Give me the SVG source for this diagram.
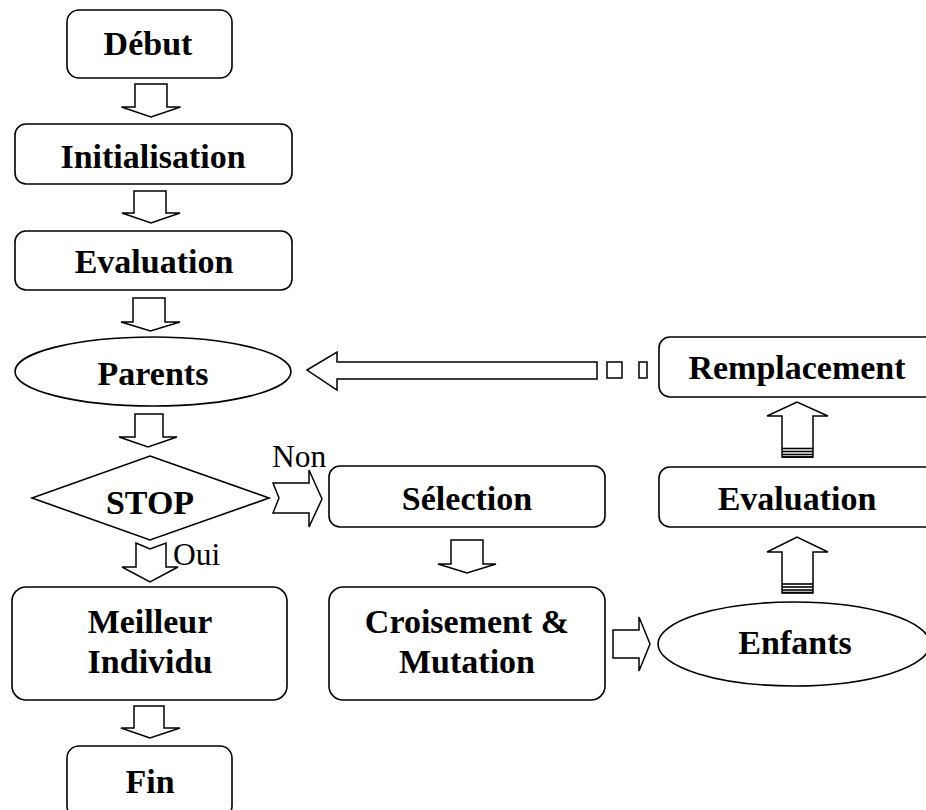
<svg xmlns="http://www.w3.org/2000/svg" width="926" height="810" viewBox="0 0 926 810">
  <defs>
    <style>
      .box { fill: #fff; stroke: #000; stroke-width: 1.6; }
      .arr { fill: #fff; stroke: #000; stroke-width: 1.5; stroke-linejoin: miter; }
      .lbl { font-family: "Liberation Serif", "Times New Roman", serif; font-weight: bold; font-size: 34px; fill: #000; text-anchor: middle; }
      .tag { font-family: "Liberation Serif", "Times New Roman", serif; font-size: 31.5px; fill: #000; }
      .bar { stroke: #000; stroke-width: 1.6; }
    </style>
  </defs>
  <rect width="926" height="810" fill="#fff"/>

  <!-- connectors -->
  <g id="connectors">
    <!-- left column, downward block arrows -->
    <path class="arr" d="M135,84 H167 V107 H180.5 L151,117 L121.5,107 H135 Z"/>
    <path class="arr" d="M134,191 H166 V213 H180 L151,223 L122,213 H134 Z"/>
    <path class="arr" d="M133,298 H165 V322 H180 L150.5,331 L121,322 H133 Z"/>
    <path class="arr" d="M135,414 H163 V437 H177 L148,447 L119,437 H135 Z"/>
    <!-- Oui -->
    <path class="arr" d="M136,543 L150,549 L166,543 V567 H178 L150,582 L122,567 H136 Z"/>
    <path class="arr" d="M134,706 H164 V728 H180 L150,738 L121,728 H134 Z"/>
    <!-- Non -->
    <path class="arr" d="M273,483 H309 V470 L322,499 L309,527 V513 H273 L279,498 Z"/>
    <!-- Sélection to Croisement -->
    <path class="arr" d="M451,540 H483 V564 H496 L467,573 L438,564 H451 Z"/>
    <!-- Croisement to Enfants -->
    <path class="arr" d="M613,630 H639 V617 L650,644 L639,671 V658 H613 Z"/>
    <!-- Enfants to Evaluation -->
    <path class="arr" d="M782,593 V552 H767 L797,537 L828,552 H813 V593 Z"/>
    <g class="bar">
      <line x1="782" y1="584" x2="813" y2="584"/>
      <line x1="782" y1="587" x2="813" y2="587"/>
      <line x1="782" y1="590" x2="813" y2="590"/>
      <line x1="782" y1="592.5" x2="813" y2="592.5"/>
    </g>
    <!-- Evaluation to Remplacement -->
    <path class="arr" d="M782,457 V416 H767 L797,402 L828,416 H813 V457 Z"/>
    <g class="bar">
      <line x1="782" y1="448.5" x2="813" y2="448.5"/>
      <line x1="782" y1="451.5" x2="813" y2="451.5"/>
      <line x1="782" y1="454.5" x2="813" y2="454.5"/>
      <line x1="782" y1="457" x2="813" y2="457"/>
    </g>
    <!-- Remplacement back to Parents -->
    <path class="arr" d="M307,370 L337,352 V362 H597 V379 H337 V390 Z"/>
    <rect class="arr" x="607" y="362" width="15" height="16"/>
    <rect class="arr" x="639" y="362" width="8" height="16"/>
  </g>

  <!-- nodes -->
  <g id="debut">
    <rect class="box" x="67" y="10" width="165" height="68" rx="12"/>
    <text class="lbl" x="148" y="55">Début</text>
  </g>
  <g id="initialisation">
    <rect class="box" x="15" y="124" width="277" height="60" rx="11"/>
    <text class="lbl" x="153" y="168">Initialisation</text>
  </g>
  <g id="evaluation1">
    <rect class="box" x="15" y="231" width="277" height="59" rx="11"/>
    <text class="lbl" x="154" y="273">Evaluation</text>
  </g>
  <g id="parents">
    <ellipse class="box" cx="153" cy="371.5" rx="138" ry="34.5"/>
    <text class="lbl" x="153" y="385">Parents</text>
  </g>
  <g id="stop">
    <polygon class="box" points="150,456 269,498 150,540 32,498"/>
    <text class="lbl" x="150" y="514">STOP</text>
  </g>
  <g id="meilleur">
    <rect class="box" x="12" y="587" width="275" height="113" rx="14"/>
    <text class="lbl" x="150" y="633">Meilleur</text>
    <text class="lbl" x="150" y="673">Individu</text>
  </g>
  <g id="fin">
    <rect class="box" x="67" y="746" width="165" height="72" rx="12"/>
    <text class="lbl" x="150" y="793">Fin</text>
  </g>
  <g id="selection">
    <rect class="box" x="329" y="466" width="276" height="61" rx="11"/>
    <text class="lbl" x="467" y="510">Sélection</text>
  </g>
  <g id="croisement">
    <rect class="box" x="329" y="587" width="276" height="113" rx="14"/>
    <text class="lbl" x="467" y="633">Croisement &amp;</text>
    <text class="lbl" x="467" y="673">Mutation</text>
  </g>
  <g id="enfants">
    <ellipse class="box" cx="794" cy="644" rx="136" ry="42"/>
    <text class="lbl" x="795" y="654">Enfants</text>
  </g>
  <g id="evaluation2">
    <rect class="box" x="659" y="467" width="277" height="60" rx="11"/>
    <text class="lbl" x="797" y="510">Evaluation</text>
  </g>
  <g id="remplacement">
    <rect class="box" x="659" y="337" width="277" height="60" rx="11"/>
    <text class="lbl" x="797" y="379">Remplacement</text>
  </g>

  <!-- branch labels -->
  <text class="tag" x="272" y="467">Non</text>
  <text class="tag" x="173" y="565">Oui</text>
</svg>
